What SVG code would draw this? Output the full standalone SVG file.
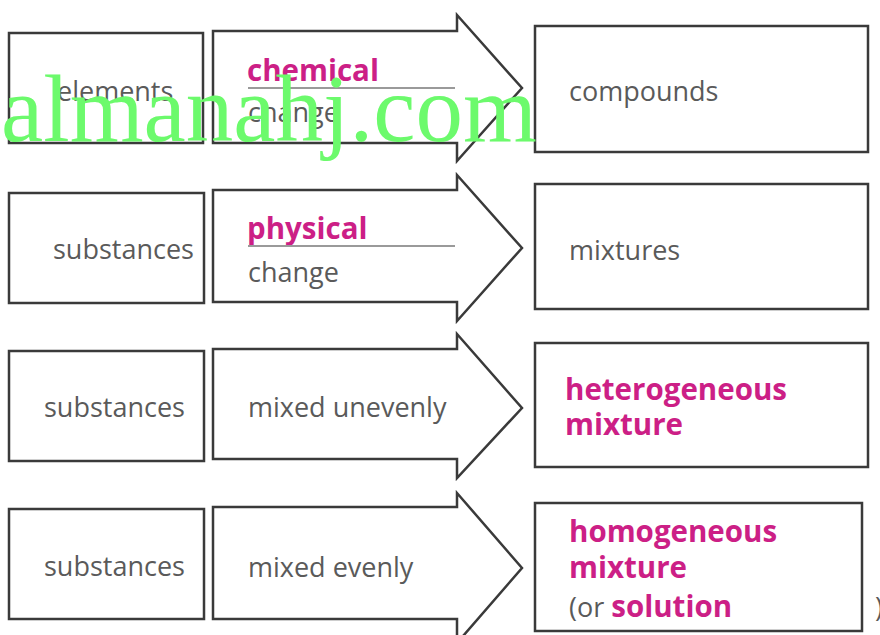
<svg xmlns="http://www.w3.org/2000/svg" width="880" height="635" viewBox="0 0 880 635">
  <style>
    .box { fill: #ffffff; stroke: #3a3a3a; stroke-width: 2.5; }
    .arrow { fill: #ffffff; stroke: #3a3a3a; stroke-width: 2.5; stroke-linejoin: miter; }
    .rule { stroke: #9a9a9a; stroke-width: 2; }
    .t { font-family: "Open Sans", "Liberation Sans", sans-serif; font-size: 27px; fill: #5a5a5a; }
    .key { font-family: "Open Sans", "Liberation Sans", sans-serif; font-size: 29.5px; font-weight: 700; fill: #cc1f86; }
    .mark { font-family: "Liberation Serif", "DejaVu Serif", serif; font-size: 95px; fill: #6cfa6c; }
  </style>
  <rect width="880" height="635" fill="#ffffff"/>

  <!-- starting materials -->
  <g id="start-elements"><rect class="box" x="9" y="33" width="194" height="110"/><text class="t" x="57" y="101">elements</text></g>
  <g id="start-substances-1"><rect class="box" x="9" y="193" width="195" height="110"/><text class="t" x="53" y="259">substances</text></g>
  <g id="start-substances-2"><rect class="box" x="9" y="351" width="195" height="110"/><text class="t" x="44" y="417">substances</text></g>
  <g id="start-substances-3"><rect class="box" x="9" y="509" width="195" height="110"/><text class="t" x="44" y="576">substances</text></g>

  <!-- block arrows carrying the process labels -->
  <g id="connectors">
    <g id="arrow-chemical">
      <path class="arrow" d="M213,31 H457 V15 L522,88 L457,161 V143 H213 Z"/>
      <text class="key" x="247" y="81">chemical</text>
      <line class="rule" x1="248" y1="88" x2="455" y2="88"/>
      <text class="t" x="248" y="122">change</text>
    </g>
    <g id="arrow-physical">
      <path class="arrow" d="M213,190 H457 V175 L522,248 L457,321 V302 H213 Z"/>
      <text class="key" x="247" y="239">physical</text>
      <line class="rule" x1="248" y1="246" x2="455" y2="246"/>
      <text class="t" x="248" y="282">change</text>
    </g>
    <g id="arrow-uneven">
      <path class="arrow" d="M213,349 H457 V334 L522,408 L457,478 V459 H213 Z"/>
      <text class="t" x="248" y="417">mixed unevenly</text>
    </g>
    <g id="arrow-even">
      <path class="arrow" d="M213,507 H457 V493 L522,568 L457,643 V619 H213 Z"/>
      <text class="t" x="248" y="577">mixed evenly</text>
    </g>
  </g>

  <!-- products -->
  <g id="result-compounds"><rect class="box" x="535" y="26" width="333" height="126"/><text class="t" x="569" y="101">compounds</text></g>
  <g id="result-mixtures"><rect class="box" x="535" y="184" width="333" height="125"/><text class="t" x="569" y="260">mixtures</text></g>
  <g id="result-heterogeneous"><rect class="box" x="535" y="343" width="333" height="124"/>
    <text class="key" x="565" y="400">heterogeneous</text>
    <text class="key" x="565" y="435">mixture</text>
  </g>
  <g id="result-homogeneous"><rect class="box" x="535" y="503" width="327" height="128"/>
    <text class="key" x="569" y="542">homogeneous</text>
    <text class="key" x="569" y="578">mixture</text>
    <text x="569" y="617"><tspan class="t">(or </tspan><tspan class="key">solution</tspan></text>
  </g>
  <text class="t" x="875" y="617">)</text>

  <!-- site watermark -->
  <text class="mark" x="1" y="141" textLength="536">almanahj.com</text>
</svg>
